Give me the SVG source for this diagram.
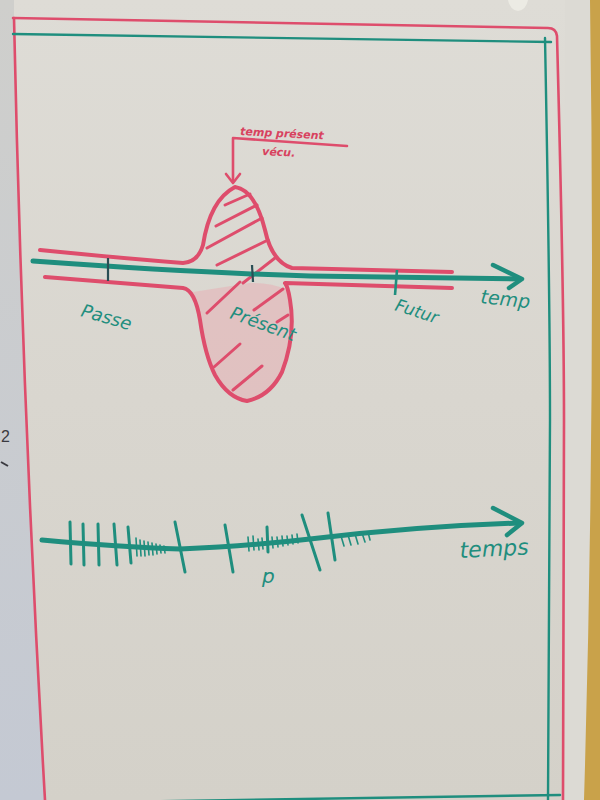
<svg xmlns="http://www.w3.org/2000/svg" width="600" height="800" viewBox="0 0 600 800">
<defs>
<linearGradient id="paper" x1="0" y1="0" x2="0" y2="1">
<stop offset="0" stop-color="#dedcd6"/>
<stop offset="0.5" stop-color="#d9d6cf"/>
<stop offset="1" stop-color="#d4d1c9"/>
</linearGradient>
<linearGradient id="leftSheet" x1="0" y1="0" x2="0" y2="1">
<stop offset="0" stop-color="#cfcfcc"/>
<stop offset="1" stop-color="#c4c9d3"/>
</linearGradient>
<style>
.red{fill:none;stroke:#de4d6c;stroke-linecap:round;stroke-linejoin:round}
.teal{fill:none;stroke:#1f8e7e;stroke-linecap:round;stroke-linejoin:round}
.hatch{fill:none;stroke:#de4d6c;stroke-width:3;stroke-linecap:round}
.tick{fill:none;stroke:#1f8e7e;stroke-width:3;stroke-linecap:round}
.small{fill:none;stroke:#1f8e7e;stroke-width:1.6;stroke-linecap:round}
.hw{font-family:"DejaVu Sans","Liberation Sans",sans-serif;font-style:italic}
.tl{fill:#1f8e7e}
.rl{fill:#d8425f}
</style>
</defs>

<!-- background photo: paper, side sheets -->
<rect x="0" y="0" width="600" height="800" fill="url(#paper)"/>
<path d="M0,0 L14,0 L14,18 Q22,400 45,800 L0,800 Z" fill="url(#leftSheet)"/>
<path d="M565,0 L600,0 L600,800 L563,800 Q566,400 565,0 Z" fill="#dcdad4"/>
<path d="M590,0 L600,0 L600,800 L584,800 Q596,400 590,0 Z" fill="#c9a24a"/>
<path d="M508,0 L528,0 Q526,10 518,11 Q510,10 508,0 Z" fill="#ecebe4"/>
<text x="1" y="442" font-family="Liberation Sans, sans-serif" font-size="16" fill="#3a3a40">2</text>
<path d="M1,462 L8,466" stroke="#3a3a40" stroke-width="2" fill="none"/>

<!-- border lines -->
<g id="border">
<path class="red" stroke-width="2.6" d="M14,18 Q22,400 45,800"/>
<path class="red" stroke-width="2.6" d="M13,18 L548,28 Q556,28 557,36 Q564,300 564,420 L563,800"/>
<path class="teal" stroke-width="2.4" d="M13,34 L551,42"/>
<path class="teal" stroke-width="2.4" d="M545,38 Q550,300 550,420 L548,800"/>
<path class="teal" stroke-width="2.4" d="M45,803 L560,795"/>
</g>

<!-- upper diagram -->
<g id="present-shape">
<path d="M193,292 Q200,320 210,363 Q225,398 247,401 Q270,396 282,372 Q296,335 288,290 Q270,282 250,283 Z" fill="#e9a8b0" opacity="0.45"/>
<path class="red" stroke-width="4" d="M40,250 Q120,258 183,263 Q198,262 203,245 Q210,200 235,187 Q255,190 265,230 Q272,262 292,268 L452,272"/>
<path class="red" stroke-width="4" d="M45,277 Q120,283 183,288 Q195,290 200,320 Q205,355 215,375 Q228,398 247,401 Q270,396 282,372 Q296,335 290,300 Q288,287 285,283 L452,288"/>
<path class="hatch" d="M225,205 L250,194"/>
<path class="hatch" d="M216,226 L257,205"/>
<path class="hatch" d="M207,248 L262,218"/>
<path class="hatch" d="M217,265 L268,240"/>
<path class="hatch" d="M243,283 L275,258"/>
<path class="hatch" d="M207,313 L240,282"/>
<path class="hatch" d="M254,310 L283,289"/>
<path class="hatch" d="M277,322 L288,315"/>
<path class="hatch" d="M214,367 L240,344"/>
<path class="hatch" d="M233,390 L262,366"/>
</g>

<g id="axis-top">
<path class="teal" stroke-width="5" d="M33,261 Q200,273 310,276 L520,279"/>
<path class="teal" stroke-width="4.5" d="M493,265 L522,279 L509,288"/>
<path d="M108,258 L108,281" stroke="#2a4e54" stroke-width="2.2" fill="none"/>
<path d="M252,265 L253,282" stroke="#2a4e54" stroke-width="2.2" fill="none"/>
<path d="M397,270 L395,295" stroke="#1f8e7e" stroke-width="2.6" fill="none"/>
</g>

<g id="callout">
<path class="red" stroke-width="2.6" d="M347,146 L233,138 L233,182"/>
<path class="red" stroke-width="2.6" d="M226,174 L233,183 L240,174"/>
<text class="hw rl" x="240" y="135" font-size="11" font-weight="bold" transform="rotate(3 240 135)">temp présent</text>
<text class="hw rl" x="262" y="155" font-size="11" font-weight="bold" transform="rotate(3 262 155)">vécu.</text>
</g>

<g id="labels-top">
<text class="hw tl" x="80" y="316" font-size="18" transform="rotate(16 80 316)">Passe</text>
<text class="hw tl" x="229" y="318" font-size="18" transform="rotate(20 229 318)">Présent</text>
<text class="hw tl" x="394" y="310" font-size="17" transform="rotate(18 394 310)">Futur</text>
<text class="hw tl" x="480" y="303" font-size="19" transform="rotate(6 480 303)">temp</text>
</g>

<!-- lower diagram -->
<g id="axis-bottom">
<path class="teal" stroke-width="5" d="M42,540 Q120,547 180,549 Q250,546 310,539 Q420,526 520,523"/>
<path class="teal" stroke-width="4.5" d="M493,508 L522,523 L507,535"/>
<path class="tick" d="M70,522 L71,564"/>
<path class="tick" d="M83,524 L84,565"/>
<path class="tick" d="M98,524 L99,565"/>
<path class="tick" d="M114,524 L117,565"/>
<path class="tick" d="M128,527 L131,563"/>
<path class="small" d="M136,538 L137,556 M140,540 L141,556 M144,541 L145,556 M148,542 L149,555 M152,543 L153,555 M156,544 L157,554 M160,545 L161,553 M164,546 L165,553"/>
<path class="tick" d="M175,522 L185,572"/>
<path class="tick" d="M225,525 L233,572"/>
<path class="small" d="M248,537 L249,551 M253,536 L254,550 M258,539 L259,550 M262,538 L263,549 M272,537 L273,548 M277,537 L278,547 M282,536 L283,546 M287,536 L288,545 M292,535 L293,544 M297,534 L298,543"/>
<path class="tick" d="M267,527 L268,552"/>
<path class="tick" d="M302,515 L320,570"/>
<path class="tick" d="M328,513 L335,560"/>
<path class="small" d="M341,536 L344,546 M348,535 L351,545 M355,534 L358,544 M362,533 L365,542 M368,532 L370,540"/>
</g>

<g id="labels-bottom">
<text class="hw tl" x="262" y="583" font-size="20">p</text>
<text class="hw tl" x="460" y="558" font-size="22" transform="rotate(-3 460 558)">temps</text>
</g>
</svg>
